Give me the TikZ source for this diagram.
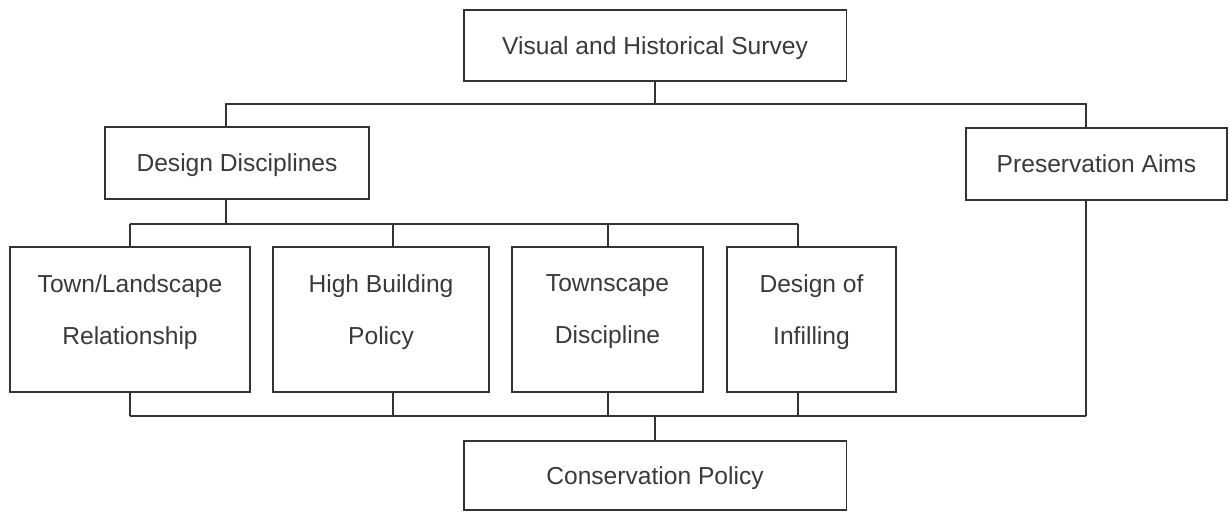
\documentclass[tikz,border=0pt]{standalone}
\usepackage{fontspec}
\setmainfont{Liberation Sans}
\usepackage{xcolor}
\usepackage{tikz}

\definecolor{wiregray}{HTML}{333333}
\definecolor{inkgray}{HTML}{3A3A3A}

\begin{document}
\begin{tikzpicture}[x=0.02cm, y=-0.02cm]
            \tikzset{box/.style={draw=wiregray, line width=1.1pt, text=inkgray, align=center, inner sep=0pt,
                                 font=\fontsize{14pt}{29.5pt}\selectfont, text depth=0pt},
                     tallbox/.style={box, minimum height=2.9cm, text depth=11.5pt},
                     wire/.style={draw=wiregray, line width=1.1pt}}
            \useasboundingbox (0, 0) rectangle (1229, 512);
            \node (survey) at (655, 45.5) [box, minimum width=7.66cm, minimum height=1.42cm] {Visual and Historical Survey};
            \node (design) at (237, 163) [box, minimum width=5.28cm, minimum height=1.44cm] {Design Disciplines};
            \node (aims) at (1096.5, 164) [box, minimum width=5.22cm, minimum height=1.44cm] {Preservation Aims};
            \node (townland) at (130, 319.5) [tallbox, minimum width=4.8cm] {Town/Landscape\\Relationship};
            \node (highbuild) at (381, 319.5) [tallbox, minimum width=4.32cm] {High Building\\Policy};
            \node (townscape) at (607.5, 319.5) [tallbox, minimum width=3.82cm] {Townscape\\Discipline};
            \node (infill) at (811.5, 319.5) [tallbox, minimum width=3.38cm] {Design of\\Infilling};
            \node (conservation) at (655, 475.5) [box, minimum width=7.66cm, minimum height=1.38cm] {Conservation Policy};
            % bus points
            \coordinate (topbus) at (655, 104);
            \coordinate (leftdrop) at (226, 104);
            \coordinate (rightdrop) at (1086, 104);
            \coordinate (m1) at (130, 224);
            \coordinate (m2) at (393, 224);
            \coordinate (m3) at (608, 224);
            \coordinate (m4) at (798, 224);
            \coordinate (mdesign) at (226, 224);
            \coordinate (b1) at (130, 416);
            \coordinate (b2) at (393, 416);
            \coordinate (b3) at (608, 416);
            \coordinate (b4) at (798, 416);
            \coordinate (baims) at (1086, 416);
            \coordinate (lowbus) at (655, 416);
            \draw [wire] (survey.south) -- (topbus);
            \draw [wire] (design.north -| leftdrop) -- (leftdrop) -- (rightdrop) -- (aims.north -| rightdrop);
            \draw [wire] (design.south -| mdesign) -- (mdesign);
            \draw [wire] (m1) -- (m4);
            \draw [wire] (townland.north -| m1) -- (m1);
            \draw [wire] (highbuild.north -| m2) -- (m2);
            \draw [wire] (townscape.north -| m3) -- (m3);
            \draw [wire] (infill.north -| m4) -- (m4);
            \draw [wire] (townland.south -| b1) -- (b1);
            \draw [wire] (highbuild.south -| b2) -- (b2);
            \draw [wire] (townscape.south -| b3) -- (b3);
            \draw [wire] (infill.south -| b4) -- (b4);
            \draw [wire] (aims.south -| baims) -- (baims);
            \draw [wire] (b1) -- (baims);
            \draw [wire] (lowbus) -- (conservation.north);
        \end{tikzpicture}
\end{document}
